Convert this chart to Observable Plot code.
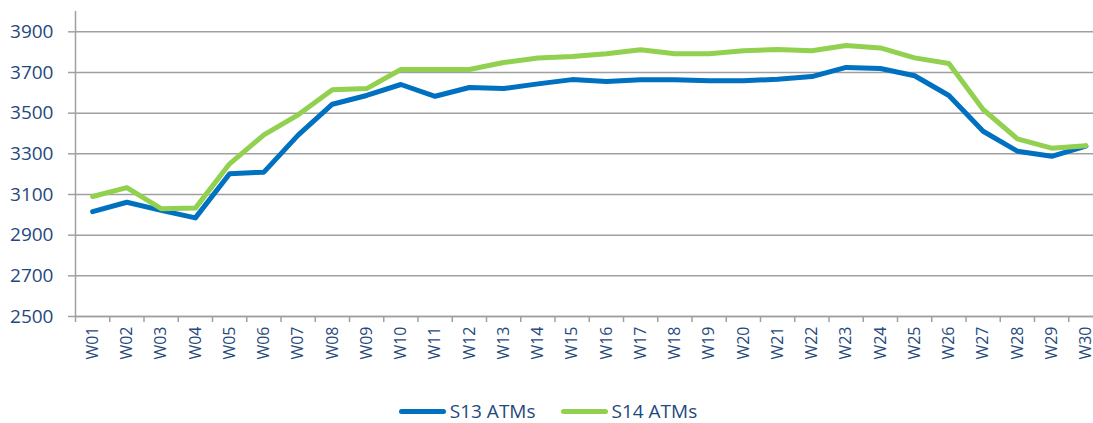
<!DOCTYPE html>
<html>
<head>
<meta charset="utf-8">
<script src="https://cdn.jsdelivr.net/npm/d3@7"></script>
<script src="https://cdn.jsdelivr.net/npm/@observablehq/plot@0.6"></script>
<style>
  html, body { margin: 0; padding: 0; background: #fff; }
  body { width: 1093px; height: 423px; overflow: hidden; font-family: "Open Sans", sans-serif; }
  #legend { display: flex; justify-content: center; align-items: center; gap: 25px; margin-top: 24px; height: 24px; color: #1F497D; font-size: 19px; padding-left: 3px; }
  .item { display: flex; align-items: center; gap: 4px; }
  .sw { width: 47px; height: 5px; border-radius: 3px; }
</style>
</head>
<body>
<div id="chart"></div>
<div id="legend"></div>
<script>
const weeks = ["W01","W02","W03","W04","W05","W06","W07","W08","W09","W10","W11","W12","W13","W14","W15","W16","W17","W18","W19","W20","W21","W22","W23","W24","W25","W26","W27","W28","W29","W30"];
const s13 = [3016,3062,3022,2985,3202,3210,3392,3544,3587,3641,3583,3626,3621,3644,3665,3656,3664,3664,3659,3659,3667,3680,3725,3720,3684,3587,3411,3313,3288,3338];
const s14 = [3090,3134,3030,3033,3251,3393,3492,3615,3621,3715,3715,3715,3749,3771,3779,3792,3812,3792,3792,3807,3813,3807,3833,3821,3772,3744,3518,3374,3328,3340];
const seriesNames = ["S13 ATMs", "S14 ATMs"];
const seriesColors = ["#0070C0", "#92D050"];
const yTicks = [2500, 2700, 2900, 3100, 3300, 3500, 3700, 3900];

const rows = [];
weeks.forEach((w, i) => rows.push({i: i + 1, week: w, value: s13[i], series: seriesNames[0]}));
weeks.forEach((w, i) => rows.push({i: i + 1, week: w, value: s14[i], series: seriesNames[1]}));

const textColor = "#1F497D";
const gridColor = "#a0a0a0";

const chart = Plot.plot({
  width: 1093,
  height: 375,
  marginLeft: 75,
  marginRight: 0,
  marginTop: 11,
  marginBottom: 59,
  style: {fontFamily: "'Open Sans', sans-serif", background: "#fff"},
  x: {type: "linear", domain: [0.5, 30.5], range: [75, 1102.5]},
  y: {domain: [2500, 4000]},
  color: {domain: seriesNames, range: seriesColors},
  marks: [
    Plot.gridY(yTicks, {stroke: gridColor, strokeOpacity: 1, strokeWidth: 1.5}),
    Plot.axisY(yTicks, {tickSize: 7, tickPadding: 15, stroke: gridColor, strokeWidth: 1.5, fill: textColor, fontSize: 19, label: null, tickFormat: d => String(d)}),
    Plot.axisX(d3.range(0.5, 30, 1), {tickSize: 6, stroke: gridColor, strokeWidth: 1.5, tickFormat: () => "", label: null}),
    Plot.axisX(d3.range(1, 31), {tickSize: 0, tickPadding: 10, tickRotate: -90, fill: textColor, fontSize: 16, tickFormat: i => weeks[i - 1], label: null}),
    Plot.ruleX([0.5], {stroke: gridColor, strokeWidth: 1.5}),
    Plot.ruleY([2500], {stroke: gridColor, strokeWidth: 1.5}),
    Plot.line(rows, {x: "i", y: "value", z: "series", stroke: "series", strokeWidth: 5, strokeLinejoin: "round", strokeLinecap: "round"})
  ]
});
document.getElementById("chart").appendChild(chart);

const legend = document.getElementById("legend");
seriesNames.forEach((name, k) => {
  const item = document.createElement("div");
  item.className = "item";
  const sw = document.createElement("div");
  sw.className = "sw";
  sw.style.background = seriesColors[k];
  const t = document.createElement("span");
  t.textContent = name;
  item.appendChild(sw);
  item.appendChild(t);
  legend.appendChild(item);
});
</script>
</body>
</html>
